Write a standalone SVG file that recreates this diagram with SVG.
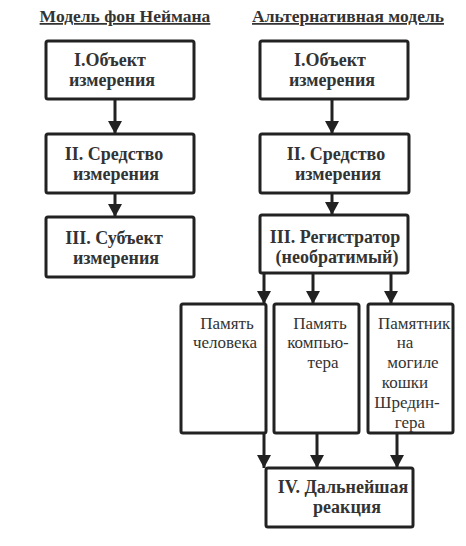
<svg xmlns="http://www.w3.org/2000/svg" width="466" height="546" viewBox="0 0 466 546">
<defs>
<marker id="ah" markerUnits="userSpaceOnUse" markerWidth="14" markerHeight="14" viewBox="0 0 14 14" refX="13" refY="7" orient="auto">
<path d="M0,0 L13,7 L0,14 Z" fill="#222"/>
</marker>
<style>
.box{fill:#fff;stroke:#222;stroke-width:3;}
.b{font-weight:bold;font-size:18px;fill:#333;text-anchor:middle;}
.r{font-size:17px;fill:#333;text-anchor:middle;}
.t{font-weight:bold;font-size:17.5px;fill:#333;text-anchor:middle;text-decoration:underline;}
.c{stroke:#222;stroke-width:3;fill:none;}
</style>
</defs>
<rect width="466" height="546" fill="#fff"/>
<g font-family="'Liberation Serif', 'DejaVu Serif', serif">
<text class="t" x="125" y="22">Модель фон Неймана</text>
<text class="t" x="348" y="22">Альтернативная модель</text>
<g id="L1"><rect class="box" x="46" y="41" width="148" height="58" rx="2"/>
<text class="b" x="110" y="66">I.Объект</text><text class="b" x="112" y="86">измерения</text></g>
<g id="L2"><rect class="box" x="46" y="134" width="148" height="59" rx="2"/>
<text class="b" x="114" y="160">II. Средство</text><text class="b" x="116" y="180">измерения</text></g>
<g id="L3"><rect class="box" x="46" y="217" width="148" height="60" rx="2"/>
<text class="b" x="114" y="244">III. Субъект</text><text class="b" x="116" y="264">измерения</text></g>
<g id="R1"><rect class="box" x="260" y="41" width="148" height="58" rx="2"/>
<text class="b" x="330" y="66">I.Объект</text><text class="b" x="332" y="86">измерения</text></g>
<g id="R2"><rect class="box" x="260" y="134" width="149" height="59" rx="2"/>
<text class="b" x="336" y="160">II. Средство</text><text class="b" x="338" y="180">измерения</text></g>
<g id="R3"><rect class="box" x="260" y="215" width="148" height="58" rx="2"/>
<text class="b" x="335" y="243">III. Регистратор</text><text class="b" x="337" y="263">(необратимый)</text></g>
<g id="MA"><rect class="box" x="181" y="304" width="85" height="129" rx="2"/>
<text class="r" x="227" y="329">Память</text><text class="r" x="225" y="348">человека</text></g>
<g id="MB"><rect class="box" x="274" y="304" width="85" height="129" rx="2"/>
<text class="r" x="320" y="329">Память</text><text class="r" x="318" y="348">компью-</text><text class="r" x="323" y="368">тера</text></g>
<g id="MC"><rect class="box" x="368" y="304" width="85" height="129" rx="2"/>
<text class="r" x="378" y="329" style="text-anchor:start">Памятник</text><text class="r" x="405" y="348">на</text><text class="r" x="413" y="368">могиле</text><text class="r" x="405" y="388">кошки</text><text class="r" x="407" y="408">Шредин-</text><text class="r" x="410" y="428">гера</text></g>
<g id="R4"><rect class="box" x="266" y="468" width="147" height="59" rx="2"/>
<text class="b" x="343" y="493">IV. Дальнейшая</text><text class="b" x="347" y="513">реакция</text></g>
</g>
<g id="connectors">
<line class="c" x1="115" y1="100" x2="115" y2="134" marker-end="url(#ah)"/>
<line class="c" x1="115" y1="194" x2="115" y2="217" marker-end="url(#ah)"/>
<line class="c" x1="332" y1="100" x2="332" y2="134" marker-end="url(#ah)"/>
<line class="c" x1="332" y1="194" x2="332" y2="215" marker-end="url(#ah)"/>
<line class="c" x1="264" y1="274" x2="264" y2="304" marker-end="url(#ah)"/>
<line class="c" x1="313" y1="274" x2="313" y2="304" marker-end="url(#ah)"/>
<line class="c" x1="391" y1="274" x2="391" y2="304" marker-end="url(#ah)"/>
<line class="c" x1="264" y1="434" x2="264" y2="468" marker-end="url(#ah)"/>
<line class="c" x1="317" y1="434" x2="317" y2="468" marker-end="url(#ah)"/>
<line class="c" x1="397" y1="434" x2="397" y2="468" marker-end="url(#ah)"/>
</g>
</svg>
